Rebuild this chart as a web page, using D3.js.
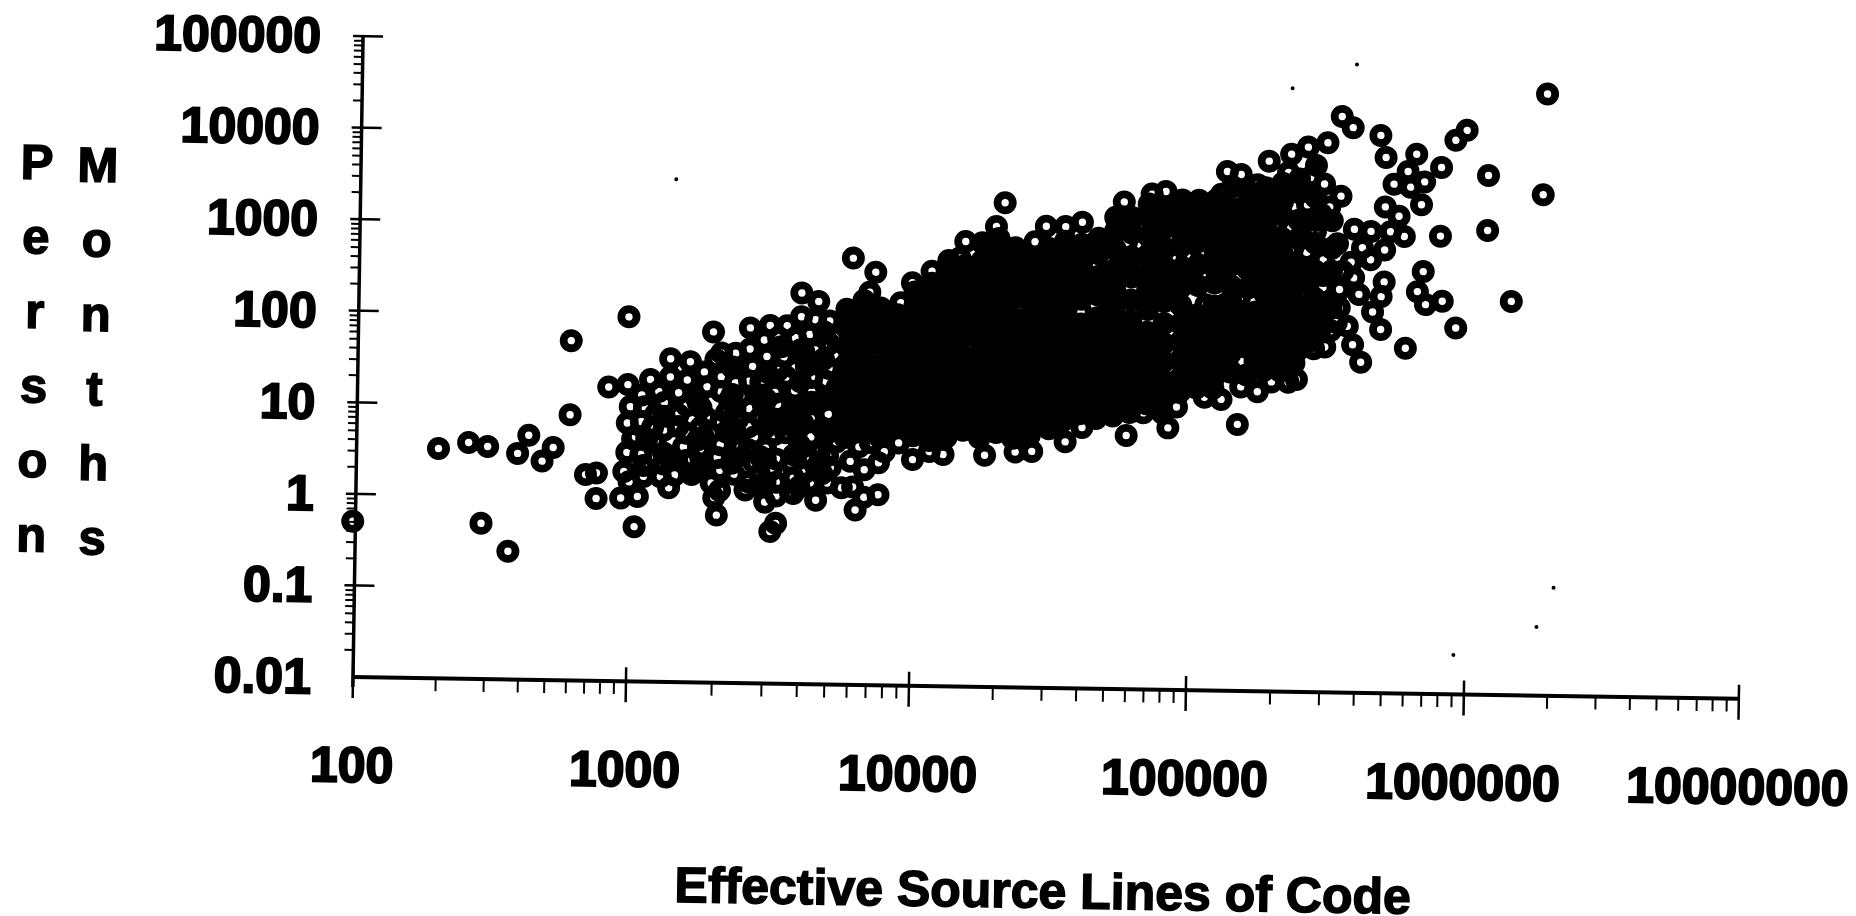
<!DOCTYPE html>
<html><head><meta charset="utf-8">
<script src="https://cdnjs.cloudflare.com/ajax/libs/d3/7.8.5/d3.min.js"></script>
<style>html,body{margin:0;background:#fff}svg{display:block}text{font-family:"Liberation Sans",Arial,sans-serif;font-weight:700;fill:#000;stroke:#000}</style>
</head><body><svg id="c" width="1856" height="916"></svg>
<script>
const xTicks=[100,1000,10000,100000,1000000,10000000];
const yTicks=[0.01,0.1,1,10,100,1000,10000,100000];
const xTitle="Effective Source Lines of Code";
const yTitleA=["P","e","r","s","o","n"];
const yTitleB=["M","o","n","t","h","s"];
// values are [log10 SLOC, log10 person months]
const leftCluster=[[1.97,-.30],[2.28,.51],[2.39,.58],[2.46,.54],[2.57,.47],[2.61,.67],[2.70,.54],[2.66,.39],[2.76,.90],[2.76,1.71],[2.97,1.98],[2.44,-.30],[2.54,-.60],[2.82,.25],[2.86,.27],[2.86,-.01],[2.95,0],[3.01,.02],[3.00,-.31],[2.90,1.21],[2.97,1.24],[3.02,1.13],[3.08,1.17],[3.12,1.53],[3.19,1.50],[3.27,1.83],[3.28,1.53],[3.24,1.39],[3.25,1.23],[3.15,1.16],[3.21,1.12],[2.97,.82],[3.02,.84],[3.07,.92],[3.15,.92],[3.25,.89],[3.15,.79],[2.97,.50],[3.02,.48],[3.07,.62],[3.17,.57],[3.12,.45],[3.20,.43],[3.29,.46],[2.96,.29],[3.03,.24],[2.98,.18],[3.09,.24],[3.14,.26],[3.20,.27],[3.27,.18],[3.28,.02],[3.29,-.17],[3.24,.68],[3.00,.67]];
const leftFill=[[2.98,1.0],[2.99,.65],[3.03,1.0],[3.04,.65],[3.03,.36],[3.05,1.3],[3.06,.78],[3.10,1.05],[3.10,.75],[3.10,.38],[3.12,1.33],[3.12,.12],[3.18,1.3],[3.18,1.02],[3.18,.72],[3.18,.42],[3.23,1.0],[3.23,.78],[3.23,.55],[3.23,.33],[3.30,1.6],[3.30,1.18],[3.30,.85],[3.30,.6],[3.30,.32],[3.30,.1],[3.35,1.6],[3.35,1.28],[3.35,1.0],[3.35,.78],[3.35,.45],[3.35,.28],[3.40,1.65],[3.40,1.3],[3.40,1.0],[3.40,.8],[3.40,.55],[3.40,.2],[3.44,1.15],[3.44,.9],[3.44,.48],[3.44,.15],[3.50,1.78],[3.50,1.42],[3.50,1.05],[3.50,.85],[3.50,.45],[3.50,.2],[3.50,.05],[3.56,1.78],[3.56,1.45],[3.56,1.2],[3.56,1.0],[3.56,.8],[3.56,.5],[3.56,.25],[3.56,.08],[3.62,1.35],[3.62,1.2],[3.62,.9],[3.62,.7],[3.62,.45],[3.62,.2],[3.68,1.72],[3.68,1.45],[3.68,1.15],[3.68,.95],[3.68,.75],[3.68,.5],[3.68,.2],[3.63,1.65],[3.63,1.5]];
const midCluster=[[3.40,1.88],[3.47,1.91],[3.53,1.91],[3.58,2.27],[3.64,2.18],[3.58,2.01],[3.63,1.98],[3.68,1.97],[3.76,1.88],[3.70,1.79],[3.61,1.82],[3.51,1.68],[3.45,1.75],[3.46,1.57],[3.52,1.57],[3.59,1.63],[3.70,1.60],[3.34,1.44],[3.41,1.46],[3.53,1.35],[3.60,1.47],[3.67,1.31],[3.71,1.25],[3.30,1.34],[3.37,1.13],[3.44,1.29],[3.49,1.18],[3.33,1.09],[3.45,1.04],[3.53,.91],[3.62,1.08],[3.59,1.02],[3.32,.95],[3.36,.88],[3.47,.90],[3.32,.74],[3.42,.69],[3.49,.72],[3.53,.74],[3.59,.85],[3.37,.57],[3.46,.57],[3.58,.61],[3.65,.53],[3.71,.65],[3.79,.60],[3.83,.65],[3.88,.55],[3.93,.65],[3.98,.47],[4.04,.56],[4.09,.53],[4.24,.53],[3.42,.41],[3.55,.41],[3.64,.37],[3.69,.37],[3.76,.44],[3.81,.35],[3.86,.43],[3.44,.28],[3.48,.33],[3.60,.31],[3.39,.11],[3.46,-.02],[3.55,.10],[3.64,.01],[3.73,.15],[3.77,.16],[3.81,.05],[3.86,.08],[3.78,-.09],[3.50,-.25],[3.48,-.34]];
const upperEdge=[[3.76,2.66],[3.84,2.51],[3.82,2.29],[4.04,2.53],[4.03,2.30],[3.97,2.40],[3.93,2.18],[4.30,3.29],[4.27,3.03],[4.16,2.86],[4.14,2.68],[4.20,2.48],[4.20,2.26],[4.27,2.67],[4.35,2.67],[4.31,2.48],[4.45,3.04],[4.52,3.04],[4.58,3.09],[4.41,2.87],[4.47,2.68],[4.51,2.44],[4.44,2.51],[4.73,3.32],[4.83,3.41],[4.88,3.44],[4.91,3.22],[4.85,3.11],[4.74,2.88],[4.89,2.94],[4.63,2.61],[4.75,2.60],[4.84,2.66],[4.96,2.73],[4.69,2.39],[4.82,2.37],[4.88,2.45],[4.97,2.59],[3.78,2.10],[3.82,1.97],[3.91,2.02],[4.02,1.97],[4.05,2.13],[4.11,2.08],[4.17,2.12],[4.15,1.95],[4.30,2.12],[4.45,2.27],[4.50,2.27],[4.47,2.15],[4.58,2.11],[4.68,2.22]];
const lowerEdge=[[4.35,.57],[4.41,.58],[4.53,.69],[4.47,.83],[4.59,.85],[4.37,.81],[4.32,.81],[4.75,.77],[4.90,.86],[5.15,.91],[4.72,1.05],[4.81,1.02],[4.85,1.19],[4.93,1.09],[5.03,1.20],[5.09,1.18],[5.16,1.32],[5.22,1.27],[5.27,1.38],[5.33,1.38],[5.36,1.41],[5.12,1.48],[5.16,1.60],[5.23,1.54],[5.27,1.66],[5.35,1.59],[5.30,1.51],[5.22,1.84],[5.32,1.81],[5.35,1.82]];
const upperRight=[[5.20,3.28],[5.27,3.48],[5.21,3.53],[5.13,3.42],[5.13,3.12],[5.28,3.12],[5.10,3.00],[5.21,2.74],[5.33,2.81],[5.07,2.58],[5.20,2.55],[5.31,2.50],[5.03,2.21],[5.31,2.23],[5.21,2.14],[5.05,3.28],[5.08,3.42],[4.98,3.19],[5.04,2.92],[4.97,2.76],[4.92,2.70]];
const rightTail=[[6.25,4.57],[6.24,3.47],[6.04,3.67],[6.04,3.07],[6.13,2.30],[5.93,2.00],[5.88,2.29],[5.82,2.25],[5.79,2.39],[5.81,2.61],[5.87,3.00],[5.96,4.16],[5.92,4.05],[5.55,4.17],[5.51,4.29],[5.65,4.09],[5.67,3.85],[5.78,3.89],[5.87,3.75],[5.75,3.70],[5.81,3.59],[5.70,3.56],[5.76,3.53],[5.80,3.34],[5.67,3.31],[5.72,3.21],[5.74,2.99],[5.69,3.04],[5.62,3.04],[5.56,3.06],[5.59,2.86],[5.67,2.84],[5.62,2.73],[5.55,2.70],[5.45,2.72],[5.67,2.49],[5.58,2.35],[5.66,2.33],[5.56,2.53],[5.51,2.40],[5.45,2.42],[5.63,2.16],[5.51,2.20],[5.66,1.97],[5.75,1.77],[5.54,2.00],[5.56,1.80],[5.46,1.77],[5.59,1.61],[5.50,2.04],[5.34,1.57],[5.51,3.42],[5.45,3.55],[5.46,4.00],[5.39,3.95],[5.33,3.87],[5.25,3.79],[5.15,3.64],[5.10,3.67],[5.32,3.67],[5.40,3.62],[5.44,3.22],[5.39,3.32],[5.42,3.03],[5.34,2.85],[5.39,2.80],[5.30,3.41],[5.39,2.37],[4.95,2.50],[5.15,2.29],[5.10,2.22],[5.37,2.14],[5.09,2.71],[5.47,3.30],[5.50,2.90],[5.52,2.60],[5.44,2.10],[5.42,1.75],[5.40,2.55],[5.48,1.95]];
// overplotted middle of the cloud: [log10 SLOC, [log10 person months ...]]
const denseCore=[[3.10,[.5,.9]],[3.22,[.3,.65,1.05]],[3.34,[.4,.75,1.15,1.45]],[3.46,[.2,.45,.8,1.1,1.4]],[3.58,[.15,.6,.95,1.3,1.65]],[3.66,[.3,.8,1.1,1.55,1.85]],[3.74,[2.1,1.9,1.7,1.5,1.3,1.1,.9,.7]],[3.80,[2.2,2.0,1.8,1.6,1.4,1.2,1.0,.8]],[3.86,[2.12,1.92,1.72,1.5,1.3,1.1,.9,.72]],[3.92,[2.05,1.85,1.63,1.42,1.22,1.02,.82]],[3.98,[2.3,2.15,1.95,1.75,1.55,1.33,1.13,.93,.73]],[4.04,[2.4,2.2,2.0,1.8,1.62,1.43,1.23,1.03,.83,.68]],[4.10,[2.65,2.5,2.3,2.1,1.9,1.7,1.5,1.32,1.12,.92,.72]],[4.16,[2.6,2.4,2.2,2.0,1.82,1.6,1.41,1.2,1.0,.8]],[4.22,[2.85,2.65,2.45,2.25,2.05,1.85,1.66,1.48,1.28,1.08,.88,.72]],[4.28,[2.9,2.7,2.5,2.3,2.1,1.93,1.74,1.55,1.36,1.17,.97,.78]],[4.34,[2.8,2.6,2.45,2.25,2.02,1.82,1.63,1.44,1.24,1.05,.86,.72]],[4.40,[2.7,2.5,2.3,2.1,1.9,1.72,1.52,1.33,1.13,.94,.75]],[4.46,[2.8,2.6,2.4,2.2,2.0,1.8,1.6,1.4,1.22,1.02,.86]],[4.52,[2.88,2.7,2.5,2.3,2.1,1.9,1.7,1.5,1.3,1.1,.92]],[4.58,[2.85,2.65,2.45,2.25,1.98,1.78,1.58,1.38,1.18,1.0]],[4.64,[2.92,2.75,2.5,2.3,2.05,1.85,1.66,1.46,1.26,1.06,.95]],[4.70,[3.15,3.0,2.8,2.58,2.36,2.16,1.94,1.74,1.54,1.34,1.14,.98]],[4.76,[3.15,2.98,2.72,2.5,2.25,2.02,1.82,1.62,1.42,1.22,1.02]],[4.82,[3.3,3.15,2.95,2.75,2.55,2.35,2.15,1.9,1.7,1.5,1.3,1.12]],[4.88,[3.25,3.05,2.82,2.62,2.42,2.24,2.0,1.78,1.58,1.38,1.2,1.02]],[4.94,[3.35,3.2,3.0,2.85,2.6,2.4,2.2,2.0,1.8,1.6,1.4,1.25]],[5.00,[3.35,3.2,3.05,2.9,2.65,2.42,2.1,1.9,1.7,1.5,1.3]],[5.06,[3.35,3.12,2.95,2.8,2.62,2.45,2.2,2.0,1.8,1.6,1.4,1.3]],[5.12,[3.5,3.25,3.05,2.85,2.65,2.42,2.25,2.08,1.88,1.68,1.5]],[5.18,[3.45,3.3,3.15,3.0,2.8,2.6,2.4,2.1,1.95,1.75,1.45]],[5.21,[1.85,1.6]],[5.24,[3.5,3.3,3.1,2.95,2.8,2.65,2.5,2.35,2.15,2.0,1.7,1.5]],[5.27,[2.25,1.85,1.6]],[5.30,[3.55,3.35,3.2,2.95,2.8,2.7,2.5,2.35,2.15,2.0,1.7,1.5]],[5.33,[2.6,2.4,2.1,1.9,1.65]],[5.36,[3.6,3.45,3.15,2.95,2.65,2.45,2.2,1.95,1.72]],[5.39,[2.6,2.2,2.0,1.8]],[5.42,[3.75,3.4,3.15,2.9,2.6,2.3,2.1,1.9]],[5.45,[2.55,2.25,2.0]],[5.48,[3.15,2.85,2.6,2.2]]];
const scanSpecks=[[5.56,4.86],[6.30,-.82],[6.24,-1.25],[5.94,-1.57],[5.33,4.59],[3.13,3.49]];
const xReadOffset=0.02; // log10 correction of the values read above for the scan's uneven axis

const originX=353, originY=677, tilt=0.9;
const svg=d3.select("#c");
const g=svg.append("g").attr("transform",`translate(${originX},${originY}) rotate(${tilt})`);
const x=d3.scaleLog().domain([100,1000,10000,100000,1000000,10000000]).range([0,273,556,833,1111,1386]);
const y=d3.scaleLog().domain([0.01,1e5]).range([0,-641]);
const fontTick=50;
const px=d=>x(10**(d[0]+xReadOffset)), py=d=>y(10**d[1]);

const core=denseCore.flatMap(([lx,ys])=>ys.map(ly=>[lx,ly]));
const ring=s=>s.attr("cx",px).attr("cy",py).attr("r",7.6).attr("stroke","#000").attr("stroke-width",7.8);
g.append("g").selectAll("circle").data(core).join("circle").call(ring).attr("fill","#000");
g.append("g").attr("fill","none").selectAll("circle").data([...leftCluster,...leftFill,...midCluster,...upperEdge,...lowerEdge,...upperRight,...rightTail]).join("circle").call(ring);
g.append("g").selectAll("circle").data(scanSpecks).join("circle").attr("cx",px).attr("cy",py).attr("r",2).attr("fill","#000");

const minors=(lo,hi)=>{const o=[];for(let e=lo;e<hi;e++){for(let m=2;m<10;m++)o.push(m*10**e);}return o;};
const xAxis=g.append("g");
xAxis.call(d3.axisBottom(x).tickValues(minors(2,7)).tickSize(13).tickFormat(""));
xAxis.selectAll(".tick line").attr("stroke-width",2);
xAxis.select(".domain").attr("stroke-width",4).attr("stroke","#000").attr("d",`M0,0H${x(1e7)}`);
g.append("g").selectAll("line").data(xTicks).join("line").attr("x1",d=>x(d)).attr("x2",d=>x(d)).attr("y1",-14).attr("y2",21).attr("stroke","#000").attr("stroke-width",2.5);
g.append("g").selectAll("text").data(xTicks).join("text").attr("x",d=>x(d)).attr("y",105).attr("text-anchor","middle").attr("font-size",fontTick).attr("stroke-width",2).text(d=>d);

const yAxis=g.append("g");
yAxis.call(d3.axisLeft(y).tickValues(minors(-2,5)).tickSize(9).tickFormat(""));
yAxis.selectAll(".tick line").attr("stroke-width",2);
yAxis.select(".domain").attr("stroke-width",3.5).attr("stroke","#000").attr("d",`M0,10V${y(1e5)}`);
g.append("g").selectAll("line").data(yTicks.slice(1)).join("line").attr("x1",-10).attr("x2",20).attr("y1",d=>y(d)).attr("y2",d=>y(d)).attr("stroke","#000").attr("stroke-width",2.5);
g.append("g").selectAll("text").data(yTicks).join("text").attr("x",-42).attr("y",d=>y(d)+17).attr("text-anchor","end").attr("font-size",fontTick).attr("stroke-width",2).text(d=>d);

g.append("text").attr("x",693).attr("y",220).attr("text-anchor","middle").attr("font-size",50).attr("stroke-width",1.5).text(xTitle);
const letters=(arr,xp,y0)=>g.append("g").selectAll("text").data(arr).join("text").attr("x",xp).attr("y",(d,i)=>y0+i*74.5).attr("text-anchor","middle").attr("font-size",49).attr("stroke-width",1.5).text(d=>d);
letters(yTitleA,-324,-493);
letters(yTitleB,-263,-491);
</script></body></html>
